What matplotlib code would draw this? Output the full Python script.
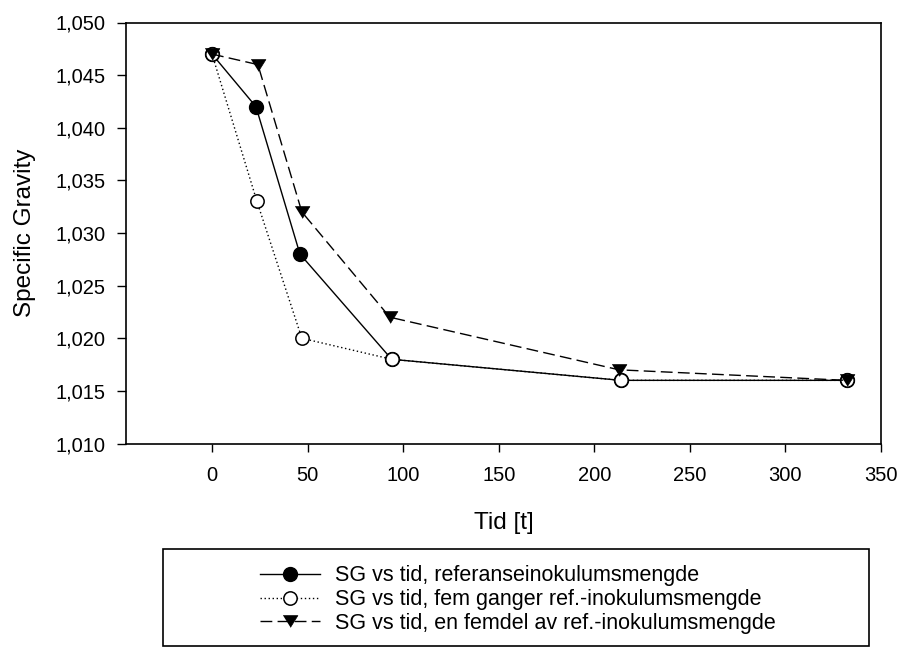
import matplotlib
matplotlib.use("Agg")
import matplotlib.pyplot as plt
from matplotlib.ticker import FuncFormatter, MultipleLocator
from matplotlib.patches import Rectangle

plt.rcParams['font.family'] = ['Liberation Sans', 'DejaVu Sans']

# Data
t_ref = [0, 23, 46, 94, 214, 332]
sg_ref = [1.047, 1.042, 1.028, 1.018, 1.016, 1.016]
t_five = [0, 23.5, 47, 94, 214, 332]
sg_five = [1.047, 1.033, 1.020, 1.018, 1.016, 1.016]
t_fifth = [0, 24, 47, 93, 213, 332]
sg_fifth = [1.047, 1.046, 1.032, 1.022, 1.017, 1.016]

labels = ["SG vs tid, referanseinokulumsmengde",
          "SG vs tid, fem ganger ref.-inokulumsmengde",
          "SG vs tid, en femdel av ref.-inokulumsmengde"]

W, H = 903, 648
fig = plt.figure(figsize=(W / 100, H / 100), dpi=100)
ax = fig.add_axes([126 / W, 1 - 443.5 / H, (881 - 126) / W, (443.5 - 22.5) / H])

tri = [(-1, 0.8), (1, 0.8), (0, -0.8)]
lw = 1.0
l1, = ax.plot(t_ref, sg_ref, '-', color='black', lw=lw, marker='o', ms=10,
              mfc='black', mec='black', label=labels[0])
l2, = ax.plot(t_five, sg_five, linestyle=(0, (1, 1.9)), color='black', lw=lw, marker='o',
              ms=9.6, mfc='white', mec='black', mew=1.1, label=labels[1])
l3, = ax.plot(t_fifth, sg_fifth, linestyle=(0, (8.5, 3.8)), color='black', lw=lw, marker=tri,
              ms=10.6, mfc='black', mec='black', mew=0.5, label=labels[2])

ax.set_xlim(-45, 350)
ax.set_ylim(1.010, 1.050)
ax.set_xticks([0, 50, 100, 150, 200, 250, 300, 350])
ax.yaxis.set_major_locator(MultipleLocator(0.005))
ax.yaxis.set_major_formatter(FuncFormatter(lambda v, p: f"{v:.3f}".replace('.', ',')))
ax.tick_params(axis='x', direction='out', length=5.4, width=1, labelsize=14.5, pad=11)
ax.tick_params(axis='y', direction='out', length=6.7, width=1, labelsize=14.5, pad=7.7)
for s in ax.spines.values():
    s.set_linewidth(1.2)

ax.set_xlabel("Tid [t]", fontsize=17.5, labelpad=19)
ax.set_ylabel("Specific Gravity", fontsize=17.5, labelpad=14)

# Legend box
fig.patches.append(Rectangle((163 / W, 1 - 646 / H), (869 - 163) / W, (646 - 549) / H,
                             transform=fig.transFigure, fill=False, edgecolor='black',
                             linewidth=1.2))
fig.legend(handles=[l1, l2, l3], loc='upper left',
           bbox_to_anchor=(260 / W, 1 - 565.5 / H), frameon=False, fontsize=15.5,
           handlelength=2.8, handletextpad=0.7, labelspacing=0.12, borderpad=0,
           borderaxespad=0)

fig.savefig("out.png", dpi=100)
